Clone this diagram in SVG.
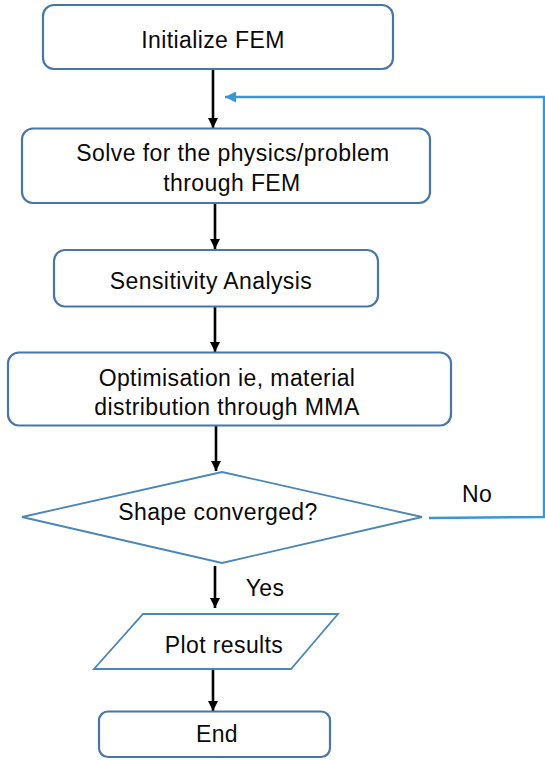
<svg xmlns="http://www.w3.org/2000/svg" width="545" height="760" viewBox="0 0 545 760">
<defs>
<style>
.box{fill:#ffffff;stroke:#4677a8;stroke-width:2.2}
.shape{fill:#ffffff;stroke:#4a86b8;stroke-width:1.8}
.lbl{font-family:"Liberation Sans",Arial,sans-serif;font-size:23px;fill:#0a0a0a;text-anchor:middle;letter-spacing:0.4px}
.flow{stroke:#000000;stroke-width:2.6;fill:none}
.loop{stroke:#3a97d6;stroke-width:2.4;fill:none}
</style>
<marker id="ah" viewBox="0 0 10 10" refX="10" refY="5" markerWidth="10" markerHeight="10" markerUnits="userSpaceOnUse" orient="auto">
<path d="M0,0 L10,5 L0,10 z" fill="#000000"/>
</marker>
<marker id="ahb" viewBox="0 0 10 10" refX="10" refY="5" markerWidth="11" markerHeight="11" markerUnits="userSpaceOnUse" orient="auto">
<path d="M0,0 L10,5 L0,10 z" fill="#3a97d6"/>
</marker>
</defs>
<rect width="545" height="760" fill="#ffffff"/>
<g id="connectors">
<line class="flow" x1="213" y1="69" x2="213" y2="128" marker-end="url(#ah)"/>
<line class="flow" x1="215" y1="203" x2="215" y2="249" marker-end="url(#ah)"/>
<line class="flow" x1="215" y1="307" x2="215" y2="352" marker-end="url(#ah)"/>
<line class="flow" x1="216" y1="426" x2="216" y2="471" marker-end="url(#ah)"/>
<line class="flow" x1="215" y1="566" x2="215" y2="608" marker-end="url(#ah)"/>
<line class="flow" x1="213" y1="669" x2="213" y2="711" marker-end="url(#ah)"/>
<polyline class="loop" points="429,518 544,517 544,97 225,97" marker-end="url(#ahb)"/>
<text class="lbl" x="265" y="596">Yes</text>
<text class="lbl" x="477" y="502">No</text>
</g>
<g id="init">
<rect class="box" x="43" y="5" width="350" height="64" rx="11"/>
<text class="lbl" x="213" y="48">Initialize FEM</text>
</g>
<g id="solve">
<rect class="box" x="22" y="128.5" width="408" height="74.5" rx="11"/>
<text class="lbl" x="233" y="161">Solve for the physics/problem</text>
<text class="lbl" x="232" y="191">through FEM</text>
</g>
<g id="sensitivity">
<rect class="box" x="54" y="250" width="324" height="56.5" rx="11"/>
<text class="lbl" x="211" y="289">Sensitivity Analysis</text>
</g>
<g id="optimise">
<rect class="box" x="8" y="352.5" width="443" height="73" rx="11"/>
<text class="lbl" x="227" y="386">Optimisation ie, material</text>
<text class="lbl" x="227" y="415">distribution through MMA</text>
</g>
<g id="converged">
<polygon class="shape" points="222,472 422,517 222,563 22,517"/>
<text class="lbl" x="218" y="520">Shape converged?</text>
</g>
<g id="plot">
<polygon class="shape" points="143,614 338,614 291,669 94,669"/>
<text class="lbl" x="224" y="653">Plot results</text>
</g>
<g id="end">
<rect class="box" x="99" y="711.5" width="231" height="45.5" rx="9"/>
<text class="lbl" x="217" y="742">End</text>
</g>
</svg>
